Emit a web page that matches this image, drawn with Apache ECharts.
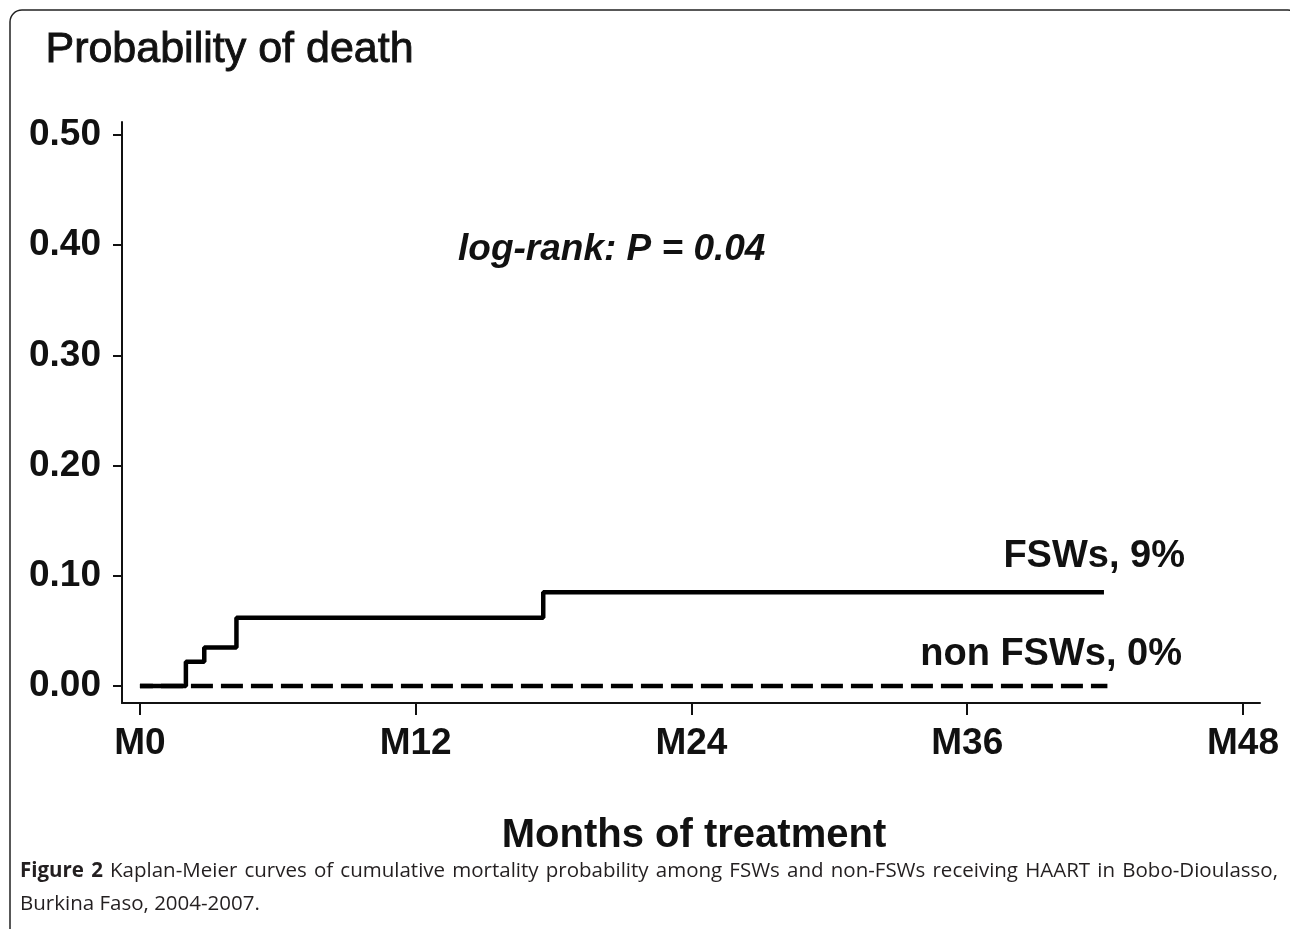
<!DOCTYPE html>
<html>
<head>
<meta charset="utf-8">
<script src="https://cdn.jsdelivr.net/npm/echarts@6/dist/echarts.min.js"></script>
<style>
  html, body { margin: 0; padding: 0; background: #fff; }
  #chart { width: 1290px; height: 929px; }
  .cap {
    position: absolute; left: 20px; width: 1258px;
    font-family: "Open Sans", "Noto Sans", sans-serif; font-size: 20.5px; line-height: 32px;
    color: #231f20; white-space: nowrap;
  }
  #cap1 { top: 853px; text-align: justify; text-align-last: justify; white-space: normal; }
  #cap2 { top: 886px; }
  .cap b { font-weight: 700; }
</style>
</head>
<body>
<div id="chart"></div>
<div class="cap" id="cap1"><b>Figure 2</b> Kaplan-Meier curves of cumulative mortality probability among FSWs and non-FSWs receiving HAART in Bobo-Dioulasso,</div>
<div class="cap" id="cap2">Burkina Faso, 2004-2007.</div>
<script>
// Kaplan-Meier step points (months, cumulative probability of death)
const fswMonths = [0, 2.0, 2.8, 4.2, 17.55, 41.95];
const fswRisk = [0, 0.022, 0.035, 0.062, 0.085, 0.085];
const nonFswMonths = [0, 42.1];
const nonFswRisk = [0, 0];
const xTicks = [0, 12, 24, 36, 48];
const yTicks = [0, 0.1, 0.2, 0.3, 0.4, 0.5];

const zip = (a, b) => a.map((v, i) => [v, b[i]]);
const bold = 'Liberation Sans, Arial, sans-serif';

var chart = echarts.init(document.getElementById('chart'));
var option = {
  animation: false,
  backgroundColor: '#fff',
  grid: { left: 122, right: 30, top: 122, bottom: 226 },
  xAxis: {
    type: 'value',
    min: -0.78,
    max: 48.74,
    splitLine: { show: false },
    axisLine: { onZero: false, lineStyle: { color: '#111', width: 2 } },
    axisTick: { customValues: xTicks, length: 12, lineStyle: { color: '#111', width: 2 } },
    axisLabel: {
      customValues: xTicks,
      formatter: v => 'M' + v,
      margin: 22,
      color: '#111',
      fontFamily: bold,
      fontWeight: 'bold',
      fontSize: 37
    }
  },
  yAxis: {
    type: 'value',
    min: -0.0154,
    max: 0.5118,
    splitLine: { show: false },
    axisLine: { show: true, onZero: false, lineStyle: { color: '#111', width: 2 } },
    axisTick: { show: true, customValues: yTicks, length: 9, lineStyle: { color: '#111', width: 2 } },
    axisLabel: {
      customValues: yTicks,
      formatter: v => v.toFixed(2),
      margin: 21,
      color: '#111',
      fontFamily: bold,
      fontWeight: 'bold',
      fontSize: 37
    }
  },
  series: [
    {
      name: 'non FSWs',
      type: 'line',
      data: zip(nonFswMonths, nonFswRisk),
      showSymbol: false,
      lineStyle: { color: '#000', width: 4.5, type: [22, 8], dashOffset: 9 }
    },
    {
      name: 'FSWs',
      type: 'line',
      step: 'end',
      data: zip(fswMonths, fswRisk),
      showSymbol: false,
      lineStyle: { color: '#000', width: 4.5 }
    }
  ],
  graphic: [
    { type: 'rect', shape: { x: 10, y: 10, width: 1290, height: 940, r: 12 }, style: { fill: null, stroke: '#222', lineWidth: 1.5 } },
    { type: 'text', left: 45, top: 28, style: { text: 'Probability of death', font: '43px Liberation Sans, Arial, sans-serif', fill: '#111', stroke: '#111', lineWidth: 0.9 } },
    { type: 'text', x: 458, y: 250, style: { text: 'log-rank: P = 0.04', font: 'italic bold 37px Liberation Sans, Arial, sans-serif', fill: '#111', verticalAlign: 'middle' } },
    { type: 'text', x: 1185, y: 557, style: { text: 'FSWs, 9%', font: 'bold 38px Liberation Sans, Arial, sans-serif', fill: '#111', align: 'right', verticalAlign: 'middle' } },
    { type: 'text', x: 1182, y: 655, style: { text: 'non FSWs, 0%', font: 'bold 38px Liberation Sans, Arial, sans-serif', fill: '#111', align: 'right', verticalAlign: 'middle' } },
    { type: 'text', x: 694, y: 836, style: { text: 'Months of treatment', font: 'bold 40px Liberation Sans, Arial, sans-serif', fill: '#111', align: 'center', verticalAlign: 'middle' } }
  ]
};
chart.setOption(option);
</script>
</body>
</html>
